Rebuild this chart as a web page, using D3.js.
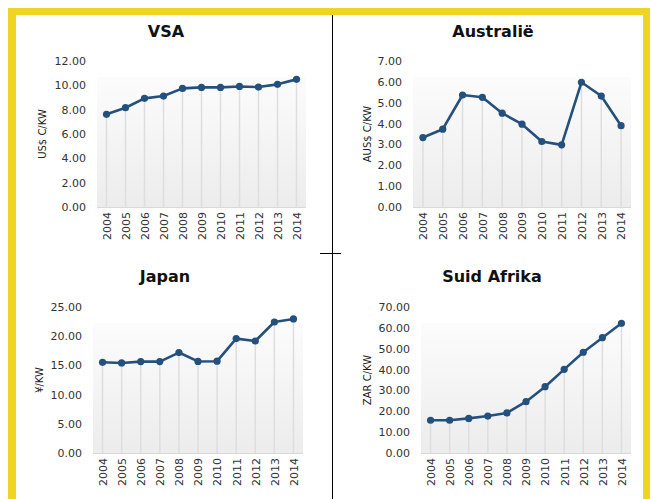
<!DOCTYPE html>
<html>
<head>
<meta charset="utf-8">
<script src="https://cdn.jsdelivr.net/npm/d3@7"></script>
<style>
  body { margin: 0; background: #ffffff; }
  svg { display: block; }
  .tick text { font-family: "DejaVu Sans", sans-serif; font-size: 11px; fill: #333333; }
</style>
</head>
<body>
<svg id="chart" width="651" height="499"></svg>
<script>
// years shared by all four panels
const years = ["2004", "2005", "2006", "2007", "2008", "2009", "2010", "2011", "2012", "2013", "2014"];

// cost per kW
const vsaValues = [7.62, 8.16, 8.93, 9.12, 9.75, 9.83, 9.83, 9.91, 9.86, 10.08, 10.49];
const australiaValues = [3.33, 3.73, 5.37, 5.26, 4.50, 3.97, 3.14, 2.98, 5.98, 5.32, 3.90];
const japanValues = [15.53, 15.42, 15.65, 15.65, 17.20, 15.68, 15.72, 19.59, 19.18, 22.43, 22.95];
const suidAfrikaValues = [15.7, 15.7, 16.6, 17.7, 19.2, 24.6, 31.8, 40.1, 48.3, 55.3, 62.2];

const titles = ["VSA", "Australië", "Japan", "Suid Afrika"];
const unitLabels = ["US$ C/KW", "AUS$ C/KW", "¥/KW", "ZAR C/KW"];
const yTicks = [
    [0, 2, 4, 6, 8, 10, 12],
    [0, 1, 2, 3, 4, 5, 6, 7],
    [0, 5, 10, 15, 20, 25],
    [0, 10, 20, 30, 40, 50, 60, 70]
];

const svg = d3.select("#chart");
const lineColor = "#24507e";
const frameColor = "#efd424";

// layout of each panel (plot box, title and unit label positions)
const panels = [
    {values: vsaValues,        left: 97,  right: 306, top: 61,  bottom: 207, titleX: 166, titleY: 37,  unitX: 46},
    {values: australiaValues,  left: 413, right: 631, top: 61,  bottom: 207, titleX: 493, titleY: 37,  unitX: 371},
    {values: japanValues,      left: 93,  right: 303, top: 307, bottom: 453, titleX: 165, titleY: 282, unitX: 43},
    {values: suidAfrikaValues, left: 421, right: 631, top: 307, bottom: 453, titleX: 492, titleY: 282, unitX: 371}
];

let defs = svg.append("defs");
let plotGradient = defs.append("linearGradient").attr("id", "plotGradient").attr("x2", "0%").attr("y2", "100%");
plotGradient.append("stop").attr("stop-color", "#fcfcfc").attr("offset", "0");
plotGradient.append("stop").attr("stop-color", "#ececec").attr("offset", "1");

// yellow frame
svg.append("rect").attr("x", 8).attr("y", 8).attr("width", 642).attr("height", 7).attr("fill", frameColor);
svg.append("rect").attr("x", 8).attr("y", 8).attr("width", 8).attr("height", 491).attr("fill", frameColor);
svg.append("rect").attr("x", 643).attr("y", 8).attr("width", 7).attr("height", 491).attr("fill", frameColor);

// divider cross
svg.append("line").attr("x1", 332.5).attr("x2", 332.5).attr("y1", 15).attr("y2", 499)
    .attr("stroke", "#000").attr("stroke-width", 1);
svg.append("line").attr("x1", 320).attr("x2", 341).attr("y1", 253.5).attr("y2", 253.5)
    .attr("stroke", "#000").attr("stroke-width", 1);

panels.forEach((p, i) => {
    let g = svg.append("g");
    let ticks = yTicks[i];
    let yMax = ticks[ticks.length - 1];

    let x = d3.scalePoint().domain(years).range([p.left, p.right]).padding(0.5);
    let y = d3.scaleLinear().domain([0, yMax]).range([p.bottom, p.top]);

    // plot area background
    g.append("rect")
        .attr("x", p.left).attr("y", p.top + 16)
        .attr("width", p.right - p.left).attr("height", p.bottom - p.top - 16)
        .attr("fill", "url(#plotGradient)");
    g.append("line")
        .attr("x1", p.left).attr("x2", p.right)
        .attr("y1", p.bottom + 0.5).attr("y2", p.bottom + 0.5)
        .attr("stroke", "#d9d9d9");

    // drop lines
    g.selectAll(".drop").data(p.values).enter().append("line")
        .attr("x1", (d, j) => x(years[j])).attr("x2", (d, j) => x(years[j]))
        .attr("y1", d => y(d)).attr("y2", p.bottom)
        .attr("stroke", "#dedede").attr("stroke-width", 1.5);

    // y axis
    let yAxis = g.append("g").attr("transform", "translate(" + (p.left - 11) + ",0)")
        .call(d3.axisLeft(y).tickValues(ticks).tickSize(0).tickPadding(0).tickFormat(d3.format(".2f")));
    yAxis.select(".domain").remove();

    // x axis, rotated labels
    let xAxis = g.append("g").attr("transform", "translate(0," + p.bottom + ")")
        .call(d3.axisBottom(x).tickSize(0));
    xAxis.select(".domain").remove();
    xAxis.selectAll("text")
        .attr("transform", "rotate(-90)")
        .attr("text-anchor", "end")
        .attr("x", -5).attr("y", 0).attr("dy", "0.35em");

    // line and markers
    let line = d3.line().x((d, j) => x(years[j])).y(d => y(d));
    g.append("path").datum(p.values)
        .attr("d", line).attr("fill", "none")
        .attr("stroke", lineColor).attr("stroke-width", 2.6).attr("stroke-linejoin", "round");
    g.selectAll(".dot").data(p.values).enter().append("circle")
        .attr("cx", (d, j) => x(years[j])).attr("cy", d => y(d))
        .attr("r", 3.6).attr("fill", lineColor);

    // title
    g.append("text").attr("x", p.titleX).attr("y", p.titleY)
        .attr("text-anchor", "middle")
        .style("font-family", "'DejaVu Sans', sans-serif").style("font-weight", "bold")
        .style("font-size", "16px").style("fill", "#111")
        .text(titles[i]);

    // unit label
    g.append("text")
        .attr("transform", "translate(" + p.unitX + "," + ((p.top + p.bottom) / 2) + ") rotate(-90)")
        .attr("text-anchor", "middle")
        .style("font-family", "'DejaVu Sans', sans-serif").style("font-size", "10px").style("fill", "#222")
        .text(unitLabels[i]);
});
</script>
</body>
</html>
